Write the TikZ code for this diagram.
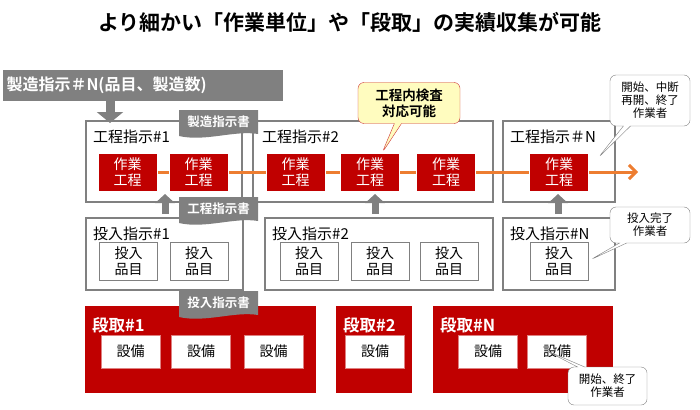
\documentclass[tikz,border=0pt]{standalone}
\usepackage{fontspec}
\setmainfont{Noto Sans CJK JP}[BoldFont={Noto Sans CJK JP Bold}]
\usetikzlibrary{arrows.meta,shapes.callouts}
\definecolor{dred}{HTML}{C00000}
\definecolor{gbox}{HTML}{808080}
\definecolor{org}{HTML}{ED7D31}
\begin{document}
\begin{tikzpicture}[x=1pt,y=-1pt,
  frame/.style={draw=gbox,line width=2.2pt},
  work/.style={fill=dred,draw=white,text=white,font=\fontsize{14}{15.5}\selectfont,align=center,inner sep=0pt},
  item/.style={fill=white,draw=gbox,line width=0.6pt,font=\fontsize{14}{15.5}\selectfont,align=center,inner sep=0pt},
  eq/.style={fill=white,draw=dred!50,font=\fontsize{14}{15.5}\selectfont,inner sep=0pt},
  lbl/.style={anchor=west,font=\fontsize{15}{17}\selectfont,inner sep=0pt},
  rlbl/.style={anchor=west,text=white,font=\bfseries\fontsize{16.5}{18}\selectfont,inner sep=0pt},
  upar/.style={draw=gbox,line width=7pt,-{Triangle[width=19pt,length=9pt]}},
  note/.style={rectangle callout,rounded corners=6pt,draw=gbox,fill=white,align=center,font=\fontsize{11.5}{13}\selectfont,inner sep=1pt},
  tabtxt/.style={text=white,font=\bfseries\fontsize{12.5}{14}\selectfont,inner sep=0pt}
]
\useasboundingbox (0,0) rectangle (700,409);
\node[font=\bfseries\fontsize{21}{23}\selectfont] (title) at (350,22) {より細かい「作業単位」や「段取」の実績収集が可能};
% banner
\node[fill=gbox,text=white,font=\bfseries\fontsize{16}{18}\selectfont,minimum width=279pt,minimum height=31pt,text width=272pt,align=left,inner xsep=4pt] (ban) at (142.5,85.5) {製造指示＃N(品目、製造数)};
\coordinate (banA) at (110,101);
\coordinate (banB) at (110,123);
\draw[draw=gbox,line width=9pt,-{Triangle[width=26pt,length=11pt]}] (banA) -- (banB);
% process frames
\draw[frame] (86,121) rectangle (242,202);
\draw[frame] (253,121) rectangle (493,202);
\draw[frame] (503,121) rectangle (615,202);
\node[lbl] (p1) at (93,137) {工程指示\#1};
\node[lbl] (p2) at (262,137) {工程指示\#2};
\node[lbl] (pn) at (510,137) {工程指示＃N};
% input frames
\draw[frame] (86,218) rectangle (243,290);
\draw[frame] (265,218) rectangle (493,290);
\draw[frame] (503,218) rectangle (615,290);
\node[lbl] (i1) at (93,234) {投入指示\#1};
\node[lbl] (i2) at (272,234) {投入指示\#2};
\node[lbl] (in) at (510,234) {投入指示\#N};
% orange line
\coordinate (oend) at (638,172);
\coordinate (ostart) at (157,172);
\draw[org,line width=3pt,-{Straight Barb[length=7pt,width=14pt,line width=3pt]}] (ostart) -- (oend);
% work nodes
\foreach \n/\x in {w1/127.5,w2/198.5,w3/295.5,w4/370,w5/446,w6/559}
  \node[work,minimum width=59pt,minimum height=38pt] (\n) at (\x,172) {作業\\工程};
% input items
\foreach \n/\x in {b1/128.5,b2/199,b3/309,b4/380,b5/449,b6/559}
  \node[item,minimum width=58pt,minimum height=38pt] (\n) at (\x,261) {投入\\品目};
% up arrows
\coordinate (ua1) at (165,214); \coordinate (ub1) at (165,194);
\coordinate (ua2) at (375,214); \coordinate (ub2) at (375,194);
\coordinate (ua3) at (558,214); \coordinate (ub3) at (558,194);
\draw[upar] (ua1) -- (ub1);
\draw[upar] (ua2) -- (ub2);
\draw[upar] (ua3) -- (ub3);
% setup boxes
\fill[dred] (85,306) rectangle (316,393);
\fill[dred] (336,306) rectangle (412,393);
\fill[dred] (433,306) rectangle (613,393);
\node[rlbl] (s1) at (92,325) {段取\#1};
\node[rlbl] (s2) at (343,325) {段取\#2};
\node[rlbl] (sn) at (440,325) {段取\#N};
\foreach \n/\x in {e1/130.5,e2/201,e3/273.5,e4/375,e5/488,e6/557}
  \node[eq,minimum width=59pt,minimum height=33pt] (\n) at (\x,351.5) {設備};
% tabs
\foreach \n/\y/\t in {t1/110/製造指示書,t2/197/工程指示書,t3/291/投入指示書}{
  \fill[gbox] (179,\y) -- (258,\y) -- (258,\y+24) .. controls (235,\y+20) and (205,\y+32) .. (179,\y+26) -- cycle;
  \node[tabtxt] (\n) at (218.5,\y+12) {\t};
}
% callouts
\node[rectangle callout,rounded corners=6pt,draw=dred!80,fill=yellow!25,align=center,
  font=\bfseries\fontsize{13.5}{16}\selectfont,minimum width=102pt,minimum height=41pt,inner sep=1pt,
  callout absolute pointer={(382,153)}] (c1) at (409,103) {工程内検査\\対応可能};
\node[note,minimum width=80pt,minimum height=51pt,callout absolute pointer={(598,158)}] (c2) at (650,100.5) {開始、中断\\再開、終了\\作業者};
\node[note,minimum width=80pt,minimum height=36pt,callout absolute pointer={(590,260)}] (c3) at (650,225) {投入完了\\作業者};
\node[note,minimum width=79pt,minimum height=38pt,callout absolute pointer={(545,350)}] (c4) at (607.5,386) {開始、終了\\作業者};
\end{tikzpicture}
\end{document}
